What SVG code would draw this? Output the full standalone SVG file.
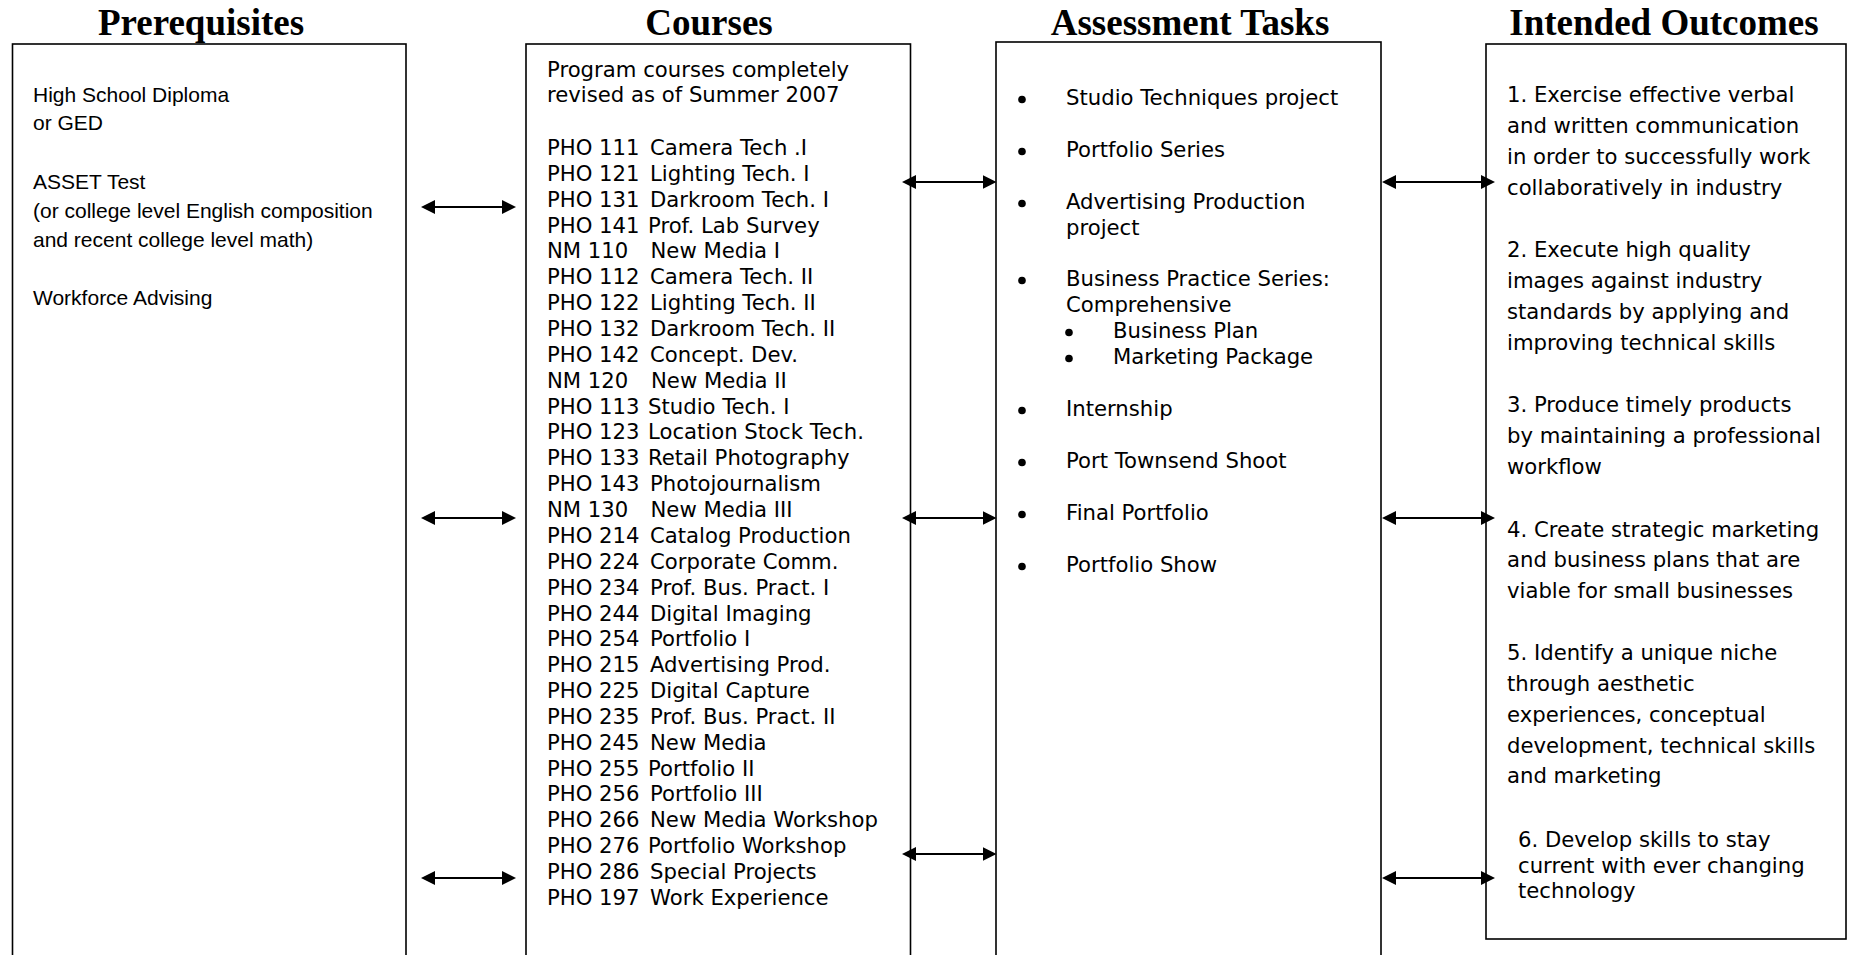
<svg xmlns="http://www.w3.org/2000/svg" width="1850" height="955" viewBox="0 0 1850 955">
<style>
.bg{fill:#fff}
.box{fill:#fff;stroke:#000;stroke-width:1.6}
.hd{font-family:"Liberation Serif","Times New Roman",serif;font-weight:bold;font-size:37px;fill:#000;text-anchor:middle}
.ar{font-family:"Liberation Sans",Arial,sans-serif;font-size:21px;fill:#000}
.vd{font-family:"DejaVu Sans",Verdana,sans-serif;font-size:21.2px;fill:#000}
.bl{fill:#000}
.cn{stroke:#000;stroke-width:2.2;fill:none;marker-start:url(#ah);marker-end:url(#ah)}
</style>
<defs>
<marker id="ah" viewBox="0 0 14 14" refX="4" refY="7" markerWidth="14" markerHeight="14" markerUnits="userSpaceOnUse" orient="auto-start-reverse">
<path d="M0,0 L14,7 L0,14 z" fill="#000"/>
</marker>
<circle id="dot" class="bl" cx="0" cy="0" r="3.8"/>
</defs>
<rect class="bg" x="0" y="0" width="1850" height="955"/>

<g id="prerequisites">
<text class="hd" x="201" y="35">Prerequisites</text>
<rect class="box" x="12.5" y="44" width="393.5" height="930"/>
<text class="ar" x="33" y="101.5">High School Diploma</text>
<text class="ar" x="33" y="130">or GED</text>
<text class="ar" x="33" y="188.5">ASSET Test</text>
<text class="ar" x="33" y="218">(or college level English composition</text>
<text class="ar" x="33" y="247">and recent college level math)</text>
<text class="ar" x="33" y="305">Workforce Advising</text>
</g>

<g id="courses">
<text class="hd" x="709" y="35">Courses</text>
<rect class="box" x="526" y="44" width="384.5" height="930"/>
<text class="vd" x="547" y="77">Program courses completely</text>
<text class="vd" x="547" y="102">revised as of Summer 2007</text>
<text class="vd"><tspan x="547" y="155">PHO 111</tspan><tspan x="650" y="155">Camera Tech .I</tspan></text>
<text class="vd"><tspan x="547" y="181">PHO 121</tspan><tspan x="650" y="181">Lighting Tech. I</tspan></text>
<text class="vd"><tspan x="547" y="206.5">PHO 131</tspan><tspan x="650" y="206.5">Darkroom Tech. I</tspan></text>
<text class="vd"><tspan x="547" y="232.5">PHO 141</tspan><tspan x="648" y="232.5">Prof. Lab Survey</tspan></text>
<text class="vd"><tspan x="547" y="258">NM 110</tspan><tspan x="650.5" y="258">New Media I</tspan></text>
<text class="vd"><tspan x="547" y="284">PHO 112</tspan><tspan x="650" y="284">Camera Tech. II</tspan></text>
<text class="vd"><tspan x="547" y="310">PHO 122</tspan><tspan x="650" y="310">Lighting Tech. II</tspan></text>
<text class="vd"><tspan x="547" y="336">PHO 132</tspan><tspan x="650" y="336">Darkroom Tech. II</tspan></text>
<text class="vd"><tspan x="547" y="362">PHO 142</tspan><tspan x="650" y="362">Concept. Dev.</tspan></text>
<text class="vd"><tspan x="547" y="387.5">NM 120</tspan><tspan x="651" y="387.5">New Media II</tspan></text>
<text class="vd"><tspan x="547" y="413.5">PHO 113</tspan><tspan x="648" y="413.5">Studio Tech. I</tspan></text>
<text class="vd"><tspan x="547" y="439">PHO 123</tspan><tspan x="648" y="439">Location Stock Tech.</tspan></text>
<text class="vd"><tspan x="547" y="465">PHO 133</tspan><tspan x="648" y="465">Retail Photography</tspan></text>
<text class="vd"><tspan x="547" y="491">PHO 143</tspan><tspan x="650" y="491">Photojournalism</tspan></text>
<text class="vd"><tspan x="547" y="517">NM 130</tspan><tspan x="650.5" y="517">New Media III</tspan></text>
<text class="vd"><tspan x="547" y="543">PHO 214</tspan><tspan x="650" y="543">Catalog Production</tspan></text>
<text class="vd"><tspan x="547" y="569">PHO 224</tspan><tspan x="650" y="569">Corporate Comm.</tspan></text>
<text class="vd"><tspan x="547" y="594.5">PHO 234</tspan><tspan x="650" y="594.5">Prof. Bus. Pract. I</tspan></text>
<text class="vd"><tspan x="547" y="620.5">PHO 244</tspan><tspan x="650" y="620.5">Digital Imaging</tspan></text>
<text class="vd"><tspan x="547" y="646">PHO 254</tspan><tspan x="650" y="646">Portfolio I</tspan></text>
<text class="vd"><tspan x="547" y="672">PHO 215</tspan><tspan x="650" y="672">Advertising Prod.</tspan></text>
<text class="vd"><tspan x="547" y="698">PHO 225</tspan><tspan x="650" y="698">Digital Capture</tspan></text>
<text class="vd"><tspan x="547" y="724">PHO 235</tspan><tspan x="650" y="724">Prof. Bus. Pract. II</tspan></text>
<text class="vd"><tspan x="547" y="749.5">PHO 245</tspan><tspan x="650" y="749.5">New Media</tspan></text>
<text class="vd"><tspan x="547" y="775.5">PHO 255</tspan><tspan x="648" y="775.5">Portfolio II</tspan></text>
<text class="vd"><tspan x="547" y="801">PHO 256</tspan><tspan x="650" y="801">Portfolio III</tspan></text>
<text class="vd"><tspan x="547" y="827">PHO 266</tspan><tspan x="650" y="827">New Media Workshop</tspan></text>
<text class="vd"><tspan x="547" y="853">PHO 276</tspan><tspan x="648" y="853">Portfolio Workshop</tspan></text>
<text class="vd"><tspan x="547" y="879">PHO 286</tspan><tspan x="650" y="879">Special Projects</tspan></text>
<text class="vd"><tspan x="547" y="905">PHO 197</tspan><tspan x="650" y="905">Work Experience</tspan></text>
</g>

<g id="assessment">
<text class="hd" x="1190" y="35">Assessment Tasks</text>
<rect class="box" x="996" y="42" width="385" height="932"/>
<use href="#dot" x="1022" y="99.5"/><text class="vd" x="1066" y="105">Studio Techniques project</text>
<use href="#dot" x="1022" y="151.5"/><text class="vd" x="1066" y="157">Portfolio Series</text>
<use href="#dot" x="1022" y="203.5"/><text class="vd" x="1066" y="209">Advertising Production</text>
<text class="vd" x="1066" y="234.5">project</text>
<use href="#dot" x="1022" y="280.5"/><text class="vd" x="1066" y="286">Business Practice Series:</text>
<text class="vd" x="1066" y="312">Comprehensive</text>
<use href="#dot" x="1069" y="332.5"/><text class="vd" x="1113" y="338">Business Plan</text>
<use href="#dot" x="1069" y="358.5"/><text class="vd" x="1113" y="364">Marketing Package</text>
<use href="#dot" x="1022" y="410.5"/><text class="vd" x="1066" y="416">Internship</text>
<use href="#dot" x="1022" y="462.5"/><text class="vd" x="1066" y="468">Port Townsend Shoot</text>
<use href="#dot" x="1022" y="514.5"/><text class="vd" x="1066" y="520">Final Portfolio</text>
<use href="#dot" x="1022" y="566.5"/><text class="vd" x="1066" y="572">Portfolio Show</text>
</g>

<g id="outcomes">
<text class="hd" x="1664" y="35">Intended Outcomes</text>
<rect class="box" x="1486" y="44" width="360" height="895"/>
<text class="vd" x="1507" y="102">1. Exercise effective verbal</text>
<text class="vd" x="1507" y="133">and written communication</text>
<text class="vd" x="1507" y="164">in order to successfully work</text>
<text class="vd" x="1507" y="195">collaboratively in industry</text>
<text class="vd" x="1507" y="257">2. Execute high quality</text>
<text class="vd" x="1507" y="288">images against industry</text>
<text class="vd" x="1507" y="319">standards by applying and</text>
<text class="vd" x="1507" y="350">improving technical skills</text>
<text class="vd" x="1507" y="412">3. Produce timely products</text>
<text class="vd" x="1507" y="443">by maintaining a professional</text>
<text class="vd" x="1507" y="474">workflow</text>
<text class="vd" x="1507" y="537">4. Create strategic marketing</text>
<text class="vd" x="1507" y="567">and business plans that are</text>
<text class="vd" x="1507" y="598">viable for small businesses</text>
<text class="vd" x="1507" y="660">5. Identify a unique niche</text>
<text class="vd" x="1507" y="691">through aesthetic</text>
<text class="vd" x="1507" y="722">experiences, conceptual</text>
<text class="vd" x="1507" y="753">development, technical skills</text>
<text class="vd" x="1507" y="783">and marketing</text>
<text class="vd" x="1518" y="847">6. Develop skills to stay</text>
<text class="vd" x="1518" y="873">current with ever changing</text>
<text class="vd" x="1518" y="898">technology</text>
</g>

<g id="connectors">
<line class="cn" x1="431" y1="207" x2="506" y2="207"/>
<line class="cn" x1="431" y1="518" x2="506" y2="518"/>
<line class="cn" x1="431" y1="878" x2="506" y2="878"/>
<line class="cn" x1="912" y1="182" x2="986.5" y2="182"/>
<line class="cn" x1="912" y1="518" x2="986.5" y2="518"/>
<line class="cn" x1="912" y1="854" x2="986.5" y2="854"/>
<line class="cn" x1="1392" y1="182" x2="1485" y2="182"/>
<line class="cn" x1="1392" y1="518" x2="1485" y2="518"/>
<line class="cn" x1="1392" y1="878" x2="1485" y2="878"/>
</g>
</svg>
